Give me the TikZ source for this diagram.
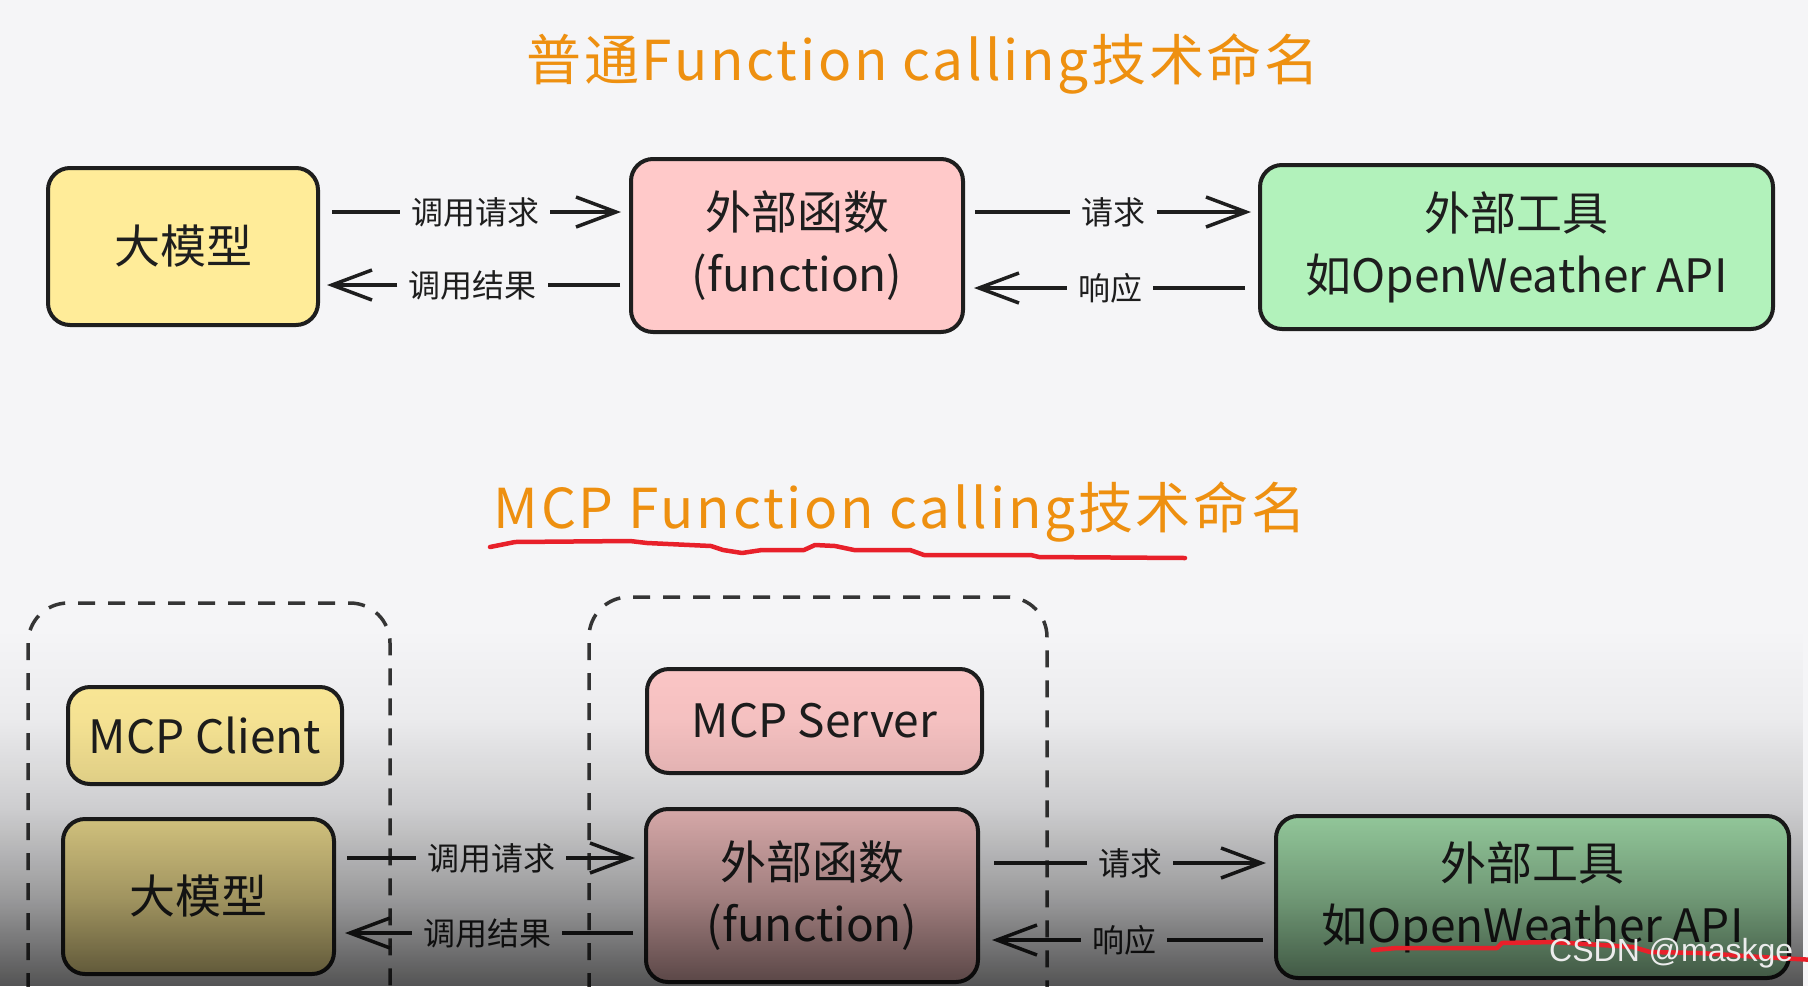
\documentclass[tikz,border=0pt]{standalone}
\usepackage{fontspec}
\newfontfamily\cjk{Noto Sans CJK SC}
\newfontfamily\cjkttl{Noto Sans CJK SC}[LetterSpace=5]
\newfontfamily\wmfont{Liberation Sans}
\usetikzlibrary{arrows.meta,calc,fadings}

\definecolor{bgc}{HTML}{F5F5F7}
\definecolor{ttl}{HTML}{EE9010}
\definecolor{yel}{HTML}{FFEC99}
\definecolor{pnk}{HTML}{FFC9C9}
\definecolor{grn}{HTML}{B2F2BB}
\definecolor{ulred}{HTML}{E8202A}
\definecolor{ink}{HTML}{1E1E1E}

\pgfdeclareverticalshading{darkshade}{100bp}{color(0bp)=(white!66!black); color(25bp)=(white!66!black); color(37.5bp)=(white!37!black); color(50bp)=(white!16!black); color(62.5bp)=(white!4!black); color(75bp)=(black); color(100bp)=(black)}
\pgfdeclarefading{darkfade}{\pgfuseshading{darkshade}}

\tikzset{
  box/.style={draw=ink, line width=4pt, rounded corners=22pt, text=ink,
    font=\cjk\fontsize{46}{62}\selectfont, align=center, inner sep=0pt},
  lbl/.style={text=ink, font=\cjk\fontsize{32}{36}\selectfont, inner xsep=11pt, inner ysep=0pt},
  conn/.style={draw=ink, line width=3.5pt},
  arr/.style={conn, -{Straight Barb[length=40pt,width=30pt]}},
  grp/.style={draw=ink!90, line width=3.5pt, dash pattern=on 17pt off 13pt, rounded corners=40pt},
  ttlstyle/.style={text=ttl, font=\cjkttl\fontsize{55}{60}\selectfont},
  underl/.style={draw=ulred, line width=4.5pt, line cap=round, line join=round},
}

\begin{document}
\begin{tikzpicture}[x=1pt,y=-1pt]
\useasboundingbox (0,0) rectangle (1808,986);
\clip (0,0) rectangle (1808,986);
\fill[bgc] (0,0) rectangle (1808,986);

% ---------- top part ----------
\node[ttlstyle] (t1) at (923,64) {普通Function calling技术命名};

\node[box, fill=yel, minimum width=270pt, minimum height=157pt] (llm1) at (183,246.5) {大模型};
\node[box, fill=pnk, minimum width=332pt, minimum height=173pt] (fn1) at (797,245.5) {外部函数\\(function)};
\node[box, fill=grn, minimum width=513pt, minimum height=164pt] (tool1) at (1516.5,247) {外部工具\\如OpenWeather API};

\node[lbl] (q1) at (475,212) {调用请求};
\node[lbl] (r1) at (472.5,285) {调用结果};
\node[lbl] (q2) at (1113.5,212) {请求};
\node[lbl] (r2) at (1110,288) {响应};

\draw[conn] ($(llm1.east|-q1)+(12,0)$) -- (q1.west);
\draw[arr] (q1.east) -- ($(fn1.west|-q1)+(-8,0)$);
\draw[conn] ($(fn1.west|-r1)+(-9,0)$) -- (r1.east);
\draw[arr] (r1.west) -- ($(llm1.east|-r1)+(7,0)$);

\draw[conn] ($(fn1.east|-q2)+(10,0)$) -- (q2.west);
\draw[arr] (q2.east) -- ($(tool1.west|-q2)+(-7,0)$);
\draw[conn] ($(tool1.west|-r2)+(-13,0)$) -- (r2.east);
\draw[arr] (r2.west) -- ($(fn1.east|-r2)+(9,0)$);

% ---------- bottom part ----------
\node[ttlstyle] (t2) at (900,512) {MCP Function calling技术命名};

\draw[grp] (28,1020) -- (28,603) -- (390,603) -- (390,1020);
\draw[grp] (589,1020) -- (589,597) -- (1047,597) -- (1047,1020);

\node[box, fill=yel, minimum width=274pt, minimum height=97pt] (client) at (205,735.5) {MCP Client};
\node[box, fill=yel, minimum width=271pt, minimum height=155pt] (llm2) at (198.5,896.5) {大模型};
\node[box, fill=pnk, minimum width=335pt, minimum height=104pt] (server) at (814.5,721) {MCP Server};
\node[box, fill=pnk, minimum width=332pt, minimum height=173pt] (fn2) at (812,895.5) {外部函数\\(function)};
\node[box, fill=grn, minimum width=513pt, minimum height=162pt] (tool2) at (1532.5,897) {外部工具\\如OpenWeather API};

\node[lbl] (q3) at (491,858) {调用请求};
\node[lbl] (r3) at (487,933) {调用结果};
\node[lbl] (q4) at (1130,863) {请求};
\node[lbl] (r4) at (1124,940) {响应};

\draw[conn] ($(llm2.east|-q3)+(11,0)$) -- (q3.west);
\draw[arr] (q3.east) -- ($(fn2.west|-q3)+(-9,0)$);
\draw[conn] ($(fn2.west|-r3)+(-11,0)$) -- (r3.east);
\draw[arr] (r3.west) -- ($(llm2.east|-r3)+(9,0)$);

\draw[conn] ($(fn2.east|-q4)+(14,0)$) -- (q4.west);
\draw[arr] (q4.east) -- ($(tool2.west|-q4)+(-8,0)$);
\draw[conn] ($(tool2.west|-r4)+(-11,0)$) -- (r4.east);
\draw[arr] (r4.west) -- ($(fn2.east|-r4)+(12,0)$);

% darkening of the lower part
\fill[black, path fading=darkfade] (0,630) rectangle (1808,986);

% red hand-drawn underlines
\draw[underl] (490,547) -- (515,542) -- (630,541) -- (647,543) -- (711,546) -- (723,550)
  -- (742,553) -- (762,550) -- (804,550) -- (815,545) -- (835,546) -- (854,550)
  -- (910,550) -- (924,555) -- (1031,555) -- (1039,557) -- (1185,558);
\draw[underl] (1373,950) -- (1397,948) -- (1497,948) -- (1502,943) -- (1553,942)
  -- (1633,947) -- (1650,952) -- (1700,953) -- (1760,957) -- (1815,960);

\node[anchor=west, inner sep=0pt, text=white!85!gray, font=\wmfont\fontsize{32}{36}\selectfont] (wm) at (1549,953) {CSDN @maskge};
\end{tikzpicture}
\end{document}
